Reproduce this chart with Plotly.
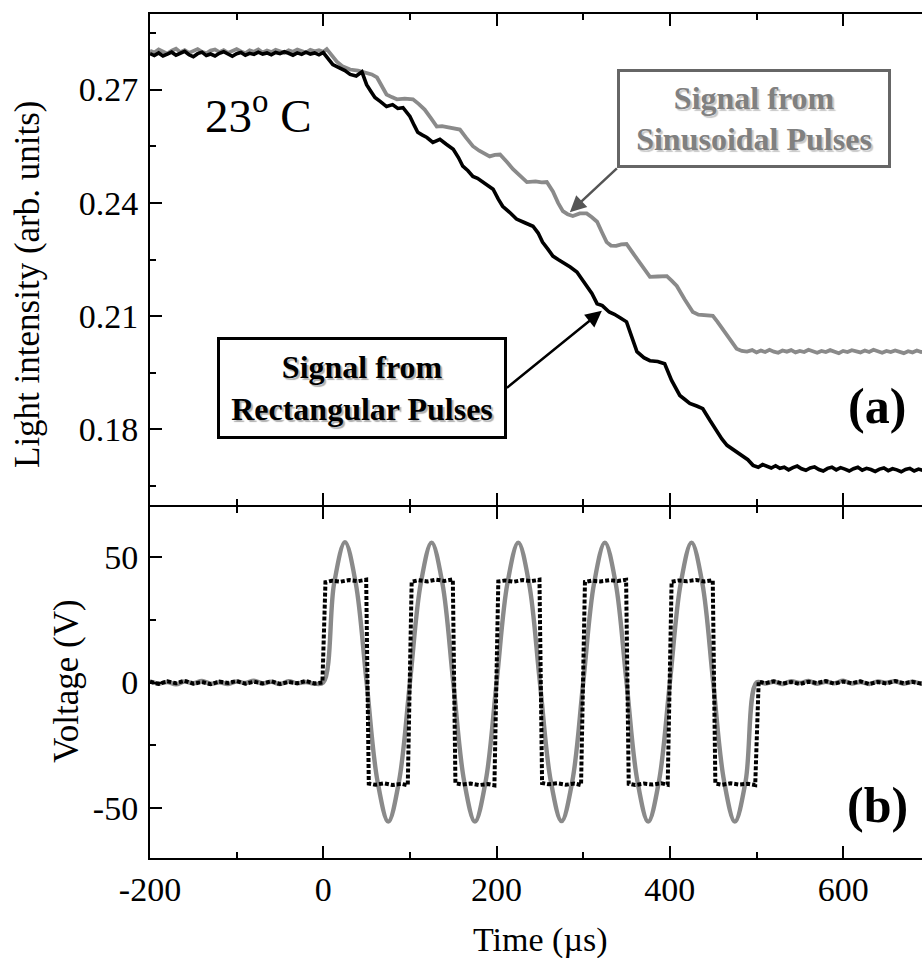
import plotly.graph_objects as go

# ---------------- data ----------------
# Panel (a): light intensity vs time
t_rect = [-200, -195, -190, -185, -180, -175, -170, -165, -160, -155, -150, -145, -140, -135, -130, -125,
          -120, -115, -110, -105, -100, -95, -90, -85, -80, -75, -70, -65, -60, -55, -50, -45, -40, -35,
          -30, -25, -20, -15, -10, -5, 0,
          5, 11, 18, 25, 31, 38, 44.6, 50, 55, 59.6, 66, 73, 80, 86, 92, 100, 105, 109, 114, 119.6, 126.5,
          134.6, 142, 150, 156, 161, 167, 172.7, 178, 183, 190, 196, 202, 207, 215, 223, 232, 242, 248, 253,
          259, 265, 271, 276.5, 285, 292.7, 298, 304, 310, 316, 322, 330, 336, 343, 350, 356, 362, 370, 377,
          386, 394, 402, 411.5, 417, 423, 431, 438, 446, 454, 460, 466, 474, 484, 490, 496, 502, 507, 512,
          517, 522, 527, 532, 537, 542, 547, 552, 557, 562, 567, 572, 577, 582, 587, 592, 597, 602, 607, 612,
          617, 622, 627, 632, 637, 642, 647, 652, 657, 662, 667, 672, 677, 682, 687, 692, 700]
i_rect = [0.2795, 0.2790, 0.2797, 0.2789, 0.2794, 0.2799, 0.2791, 0.2796, 0.2801, 0.2792, 0.2787, 0.2795,
          0.2799, 0.2790, 0.2794, 0.2789, 0.2796, 0.2800, 0.2793, 0.2788, 0.2795, 0.2798, 0.2791, 0.2796,
          0.2793, 0.2799, 0.2794, 0.2797, 0.2792, 0.2798, 0.2795, 0.2800, 0.2796, 0.2791, 0.2797, 0.2793,
          0.2799, 0.2794, 0.2797, 0.2792, 0.2798,
          0.2785, 0.2766, 0.2758, 0.2750, 0.2740, 0.2736, 0.2747, 0.2713, 0.2695, 0.2679, 0.2668, 0.2655,
          0.2660, 0.2650, 0.2652, 0.2629, 0.2605, 0.2587, 0.2580, 0.2573, 0.2560, 0.2568, 0.2555, 0.2542,
          0.2520, 0.2497, 0.2485, 0.2470, 0.2465, 0.2457, 0.2448, 0.2436, 0.2410, 0.2391, 0.2375, 0.2357,
          0.2348, 0.2338, 0.2320, 0.2296, 0.2278, 0.2259, 0.2250, 0.2243, 0.2230, 0.2217, 0.2200, 0.2180,
          0.2160, 0.2133, 0.2128, 0.2111, 0.2105, 0.2095, 0.2085, 0.2045, 0.2006, 0.1990, 0.1982, 0.1980,
          0.1974, 0.1930, 0.1890, 0.1880, 0.1869, 0.1862, 0.1855, 0.1825, 0.1795, 0.1775, 0.1758, 0.1745,
          0.1731, 0.1720, 0.1705, 0.1700, 0.1707, 0.1703,
          0.1698, 0.1704, 0.1697, 0.1700, 0.1693, 0.1699, 0.1703, 0.1696, 0.1692, 0.1698, 0.1701, 0.1694,
          0.1690, 0.1697, 0.1700, 0.1693, 0.1699, 0.1695, 0.1690, 0.1696, 0.1700, 0.1692, 0.1697, 0.1694,
          0.1689, 0.1695, 0.1698, 0.1691, 0.1696, 0.1693, 0.1688, 0.1694, 0.1697, 0.1690, 0.1695, 0.1692,
          0.1694]

t_sin = [-200, -195, -190, -185, -180, -175, -170, -165, -160, -155, -150, -145, -140, -135, -130, -125,
         -120, -115, -110, -105, -100, -95, -90, -85, -80, -75, -70, -65, -60, -55, -50, -45, -40, -35,
         -30, -25, -20, -15, -10, -5, 0, 4,
         10, 15.7, 22, 31, 40, 50, 56, 62, 68, 73, 79, 85, 94, 103.5, 110, 117, 124, 131, 137, 142.7, 150,
         157.7, 165, 172.7, 180, 186, 192, 198, 204, 212, 219, 227, 235, 245, 252, 258, 265, 271, 276.5,
         282, 288, 296, 304, 310, 316, 322, 327, 332, 338, 344, 350, 357, 365, 371, 377, 386, 396.5, 402,
         408, 417, 426.5, 433, 441, 449.6, 455, 461, 469, 477, 483, 489, 495, 500,
         505, 510, 515, 520, 525, 530, 535, 540, 545, 550, 555, 560, 565, 570, 575, 580, 585, 590, 595,
         600, 605, 610, 615, 620, 625, 630, 635, 640, 645, 650, 655, 660, 665, 670, 675, 680, 685, 690,
         695, 700]
i_sin = [0.2803, 0.2798, 0.2806, 0.2800, 0.2795, 0.2803, 0.2808, 0.2799, 0.2804, 0.2797, 0.2802, 0.2807,
         0.2800, 0.2796, 0.2803, 0.2806, 0.2799, 0.2804, 0.2797, 0.2802, 0.2807, 0.2801, 0.2796, 0.2804,
         0.2800, 0.2806, 0.2798, 0.2803, 0.2799, 0.2805, 0.2801, 0.2797, 0.2804, 0.2800, 0.2806, 0.2802,
         0.2798, 0.2805, 0.2801, 0.2804, 0.2800, 0.2807,
         0.2790, 0.2774, 0.2762, 0.2753, 0.2750, 0.2745, 0.2740, 0.2732, 0.2710, 0.2687, 0.2680, 0.2674,
         0.2676, 0.2674, 0.2662, 0.2647, 0.2625, 0.2602, 0.2603, 0.2600, 0.2597, 0.2594, 0.2572, 0.2550,
         0.2538, 0.2530, 0.2523, 0.2527, 0.2528, 0.2508, 0.2489, 0.2472, 0.2455, 0.2457, 0.2454, 0.2455,
         0.2430, 0.2400, 0.2378, 0.2370, 0.2365, 0.2372, 0.2372, 0.2362, 0.2350, 0.2320, 0.2296, 0.2287,
         0.2286, 0.2290, 0.2291, 0.2268, 0.2243, 0.2222, 0.2204, 0.2205, 0.2206, 0.2194, 0.2180, 0.2145,
         0.2111, 0.2104, 0.2103, 0.2101, 0.2085, 0.2067, 0.2040, 0.2014, 0.2008, 0.2006, 0.2010, 0.2004,
         0.2009, 0.2005, 0.2011, 0.2006, 0.2003, 0.2009, 0.2006, 0.2010, 0.2004, 0.2008, 0.2005, 0.2011,
         0.2007, 0.2003, 0.2008, 0.2005, 0.2010, 0.2006, 0.2002, 0.2008, 0.2005, 0.2010, 0.2007, 0.2004,
         0.2009, 0.2005, 0.2011, 0.2006, 0.2003, 0.2008, 0.2005, 0.2009, 0.2006, 0.2002, 0.2007, 0.2004,
         0.2009, 0.2005, 0.2007, 0.2004]

# Panel (b): applied voltage vs time
t_vsin = [-200, -190, -180, -170, -160, -150, -140, -130, -120, -110, -100, -90, -80, -70, -60, -50, -40,
          -30, -20, -10,
          0, 12.5, 25, 37.5, 50, 62.5, 75, 87.5, 100, 112.5, 125, 137.5, 150, 162.5, 175, 187.5, 200,
          212.5, 225, 237.5, 250, 262.5, 275, 287.5, 300, 312.5, 325, 337.5, 350, 362.5, 375, 387.5, 400,
          412.5, 425, 437.5, 450, 462.5, 475, 487.5, 500,
          510, 520, 530, 540, 550, 560, 570, 580, 590, 600, 610, 620, 630, 640, 650, 660, 670, 680, 690, 700]
v_sin = [0.5, -0.4, 0.2, -0.7, 0.4, -0.3, 0.6, -0.5, 0.1, -0.6, 0.4, -0.2, 0.7, -0.4, 0.3, -0.6, 0.5,
         -0.3, 0.2, -0.5,
         0, 39.5, 56.0, 39.5, 0, -39.2, -55.5, -39.2, 0, 39.5, 55.8, 39.5, 0, -39.2, -55.5, -39.2, 0,
         39.5, 55.8, 39.5, 0, -39.2, -55.3, -39.2, 0, 39.5, 55.8, 39.5, 0, -39.2, -55.5, -39.2, 0,
         39.5, 55.8, 39.5, 0, -39.2, -55.5, -39.2, 0,
         -0.4, 0.3, -0.6, 0.5, -0.2, 0.6, -0.5, 0.3, -0.3, 0.7, -0.4, 0.2, -0.6, 0.4, -0.1, 0.5, -0.5,
         0.3, -0.3, 0.4]

t_vrect = [-200, -190, -180, -170, -160, -150, -140, -130, -120, -110, -100, -90, -80, -70, -60, -50, -40,
           -30, -20, -10, -1,
           2.5, 10, 20, 30, 40, 49.5, 52.5, 60, 70, 80, 90, 97.5,
           102, 110, 120, 130, 140, 149.5, 152.5, 160, 170, 180, 190, 197.5,
           202, 210, 220, 230, 240, 249.5, 252.5, 260, 270, 280, 290, 297.5,
           302, 310, 320, 330, 340, 349.5, 352.5, 360, 370, 380, 390, 397.5,
           402, 410, 420, 430, 440, 449.5, 452.5, 460, 470, 480, 490, 498.5,
           502.5, 510, 520, 530, 540, 550, 560, 570, 580, 590, 600, 610, 620, 630, 640, 650, 660, 670,
           680, 690, 700]
v_rect = [0.3, -0.6, 0.5, -0.3, 0.7, -0.5, 0.2, -0.7, 0.4, -0.2, 0.6, -0.5, 0.3, -0.4, 0.5, -0.6, 0.2,
          -0.3, 0.6, -0.4, 0.0,
          40.0, 40.6, 40.2, 40.9, 40.4, 41.0, -40.3, -40.8, -40.2, -40.9, -40.4, -41.0,
          40.2, 40.8, 40.3, 41.0, 40.5, 41.1, -40.2, -40.7, -40.3, -40.9, -40.5, -41.0,
          40.3, 40.7, 40.2, 40.9, 40.4, 41.0, -40.1, -40.6, -40.2, -40.8, -40.3, -40.9,
          40.1, 40.6, 40.3, 40.8, 40.5, 41.0, -40.4, -40.9, -40.3, -40.7, -40.2, -40.8,
          40.2, 40.7, 40.4, 40.9, 40.3, 40.8, -40.3, -40.8, -40.2, -40.7, -40.4, -40.9,
          0.4, -0.3, 0.5, -0.4, 0.2, -0.6, 0.3, -0.2, 0.6, -0.5, 0.4, -0.3, 0.5, -0.6, 0.2, -0.4, 0.6,
          -0.3, 0.3, -0.5, 0.2]

x_tickvals = [-200, 0, 200, 400, 600]
x_ticktext = ["-200", "0", "200", "400", "600"]
y_top_tickvals = [0.18, 0.21, 0.24, 0.27]
y_top_ticktext = ["0.18", "0.21", "0.24", "0.27"]
y_bot_tickvals = [-50, 0, 50]
y_bot_ticktext = ["-50", "0", "50"]

x_range = [-200, 691]
y_top_range = [0.16, 0.29]
y_bot_range = [-70, 70]

# ---------------- figure ----------------
W, H = 922, 958
ML, MR, MT, MB = 150, 0, 14, 100
PW, PH = W - ML - MR, H - MT - MB


def px(xp):
    return (xp - ML) / PW


def py(yp):
    return (H - MB - yp) / PH


top_bottom = py(505)
bot_top = py(507)
FONT = "Liberation Serif"
GRAY = "#8a8a8a"

fig = go.Figure()
fig.add_trace(go.Scatter(x=t_sin, y=i_sin, mode="lines", line=dict(color=GRAY, width=3.8),
                         xaxis="x", yaxis="y", hoverinfo="skip"))
fig.add_trace(go.Scatter(x=t_rect, y=i_rect, mode="lines", line=dict(color="black", width=3.6),
                         xaxis="x", yaxis="y", hoverinfo="skip"))
fig.add_trace(go.Scatter(x=t_vsin, y=v_sin, mode="lines", line=dict(color=GRAY, width=4.4, shape="spline"),
                         xaxis="x2", yaxis="y2", hoverinfo="skip"))
fig.add_trace(go.Scatter(x=t_vrect, y=v_rect, mode="lines",
                         line=dict(color="black", width=4, dash="4px,2px"),
                         xaxis="x2", yaxis="y2", hoverinfo="skip"))

axis_common = dict(showgrid=False, zeroline=False, showline=True, linecolor="black", linewidth=2,
                   ticks="inside", ticklen=12, tickwidth=2, tickcolor="black",
                   tickfont=dict(family=FONT, size=34, color="black"))

fig.update_layout(
    width=W, height=H, margin=dict(l=ML, r=MR, t=MT, b=MB),
    paper_bgcolor="white", plot_bgcolor="white", showlegend=False,
    xaxis=dict(**axis_common, domain=[0, 1], range=x_range, anchor="y", mirror="ticks",
               tickvals=x_tickvals, showticklabels=False,
               minor=dict(tickvals=[-100, 100, 300, 500], ticklen=6, tickwidth=2, ticks="inside",
                          tickcolor="black")),
    yaxis=dict(**axis_common, domain=[top_bottom, 1], range=y_top_range, anchor="x",
               tickvals=y_top_tickvals, ticktext=y_top_ticktext,
               minor=dict(tickvals=[0.165, 0.195, 0.225, 0.255, 0.285], ticklen=6, tickwidth=2,
                          ticks="inside", tickcolor="black"),
               ticklabelstandoff=3),
    yaxis3=dict(showgrid=False, zeroline=False, showline=False, overlaying="y", side="right",
                anchor="x", range=y_top_range, tickvals=y_top_tickvals,
                ticks="inside", ticklen=4, tickwidth=2, tickcolor="black", showticklabels=False),
    xaxis2=dict(**axis_common, domain=[0, 1], range=x_range, anchor="y2", mirror="ticks",
                tickvals=x_tickvals, ticktext=x_ticktext, ticklabelstandoff=0,
                minor=dict(tickvals=[-100, 100, 300, 500], ticklen=6, tickwidth=2, ticks="inside",
                           tickcolor="black")),
    yaxis2=dict(**axis_common, domain=[0, bot_top], range=y_bot_range, anchor="x2",
                tickvals=y_bot_tickvals, ticktext=y_bot_ticktext,
                minor=dict(tickvals=[-25, 25], ticklen=6, tickwidth=2, ticks="inside", tickcolor="black"),
                ticklabelstandoff=3),
    yaxis4=dict(showgrid=False, zeroline=False, showline=False, overlaying="y2", side="right",
                anchor="x2", range=y_bot_range, tickvals=y_bot_tickvals,
                ticks="inside", ticklen=4, tickwidth=2, tickcolor="black", showticklabels=False),
)

ann = []
# axis titles
ann.append(dict(text="Light intensity (arb. units)", xref="paper", yref="paper", x=px(28), y=py(285),
                xanchor="center", yanchor="middle", textangle=-90, showarrow=False,
                font=dict(family=FONT, size=35, color="black")))
ann.append(dict(text="Voltage (V)", xref="paper", yref="paper", x=px(66), y=py(681),
                xanchor="center", yanchor="middle", textangle=-90, showarrow=False,
                font=dict(family=FONT, size=35, color="black")))
ann.append(dict(text="Time (\u00b5s)", xref="paper", yref="paper", x=px(540), y=py(940),
                xanchor="center", yanchor="middle", showarrow=False,
                font=dict(family=FONT, size=34, color="black")))
# temperature and panel labels
ann.append(dict(text="23<sup>o</sup> C", xref="paper", yref="paper", x=px(203), y=py(113),
                xanchor="left", yanchor="middle", showarrow=False,
                font=dict(family=FONT, size=47, color="black")))
ann.append(dict(text="<b>(a)</b>", xref="paper", yref="paper", x=px(877), y=py(406),
                xanchor="center", yanchor="middle", showarrow=False,
                font=dict(family=FONT, size=50, color="black")))
ann.append(dict(text="<b>(b)</b>", xref="paper", yref="paper", x=px(877), y=py(805),
                xanchor="center", yanchor="middle", showarrow=False,
                font=dict(family=FONT, size=50, color="black")))
# label boxes with arrows (arrow tip on the curve, tail on the box edge)
ann.append(dict(text="<b>Signal from<br>Rectangular Pulses</b>", xref="x", yref="y",
                x=321.5, y=0.2114, ax=-95, ay=77, showarrow=True,
                arrowhead=2, arrowsize=1.3, arrowwidth=2.5, arrowcolor="black",
                xanchor="right", yanchor="middle",
                width=284, height=96, borderwidth=3, borderpad=0, bordercolor="black", bgcolor="white",
                font=dict(family=FONT, size=32, color="black", shadow="2px 2px 1px #b0b0b0")))
ann.append(dict(text="<b>Signal from<br>Sinusoidal Pulses</b>", xref="x", yref="y",
                x=284.6, y=0.2375, ax=47, ay=-44, showarrow=True,
                arrowhead=2, arrowsize=1.3, arrowwidth=2.5, arrowcolor="#555555",
                xanchor="left", yanchor="bottom",
                width=268, height=93, borderwidth=3, borderpad=0, bordercolor="#666666", bgcolor="white",
                font=dict(family=FONT, size=32, color="#808080", shadow="2px 2px 1px #c8c8c8")))
fig.update_layout(annotations=ann)

fig.write_html("out.html", config={"displayModeBar": False},
               post_script="document.body.style.margin='0px';")
